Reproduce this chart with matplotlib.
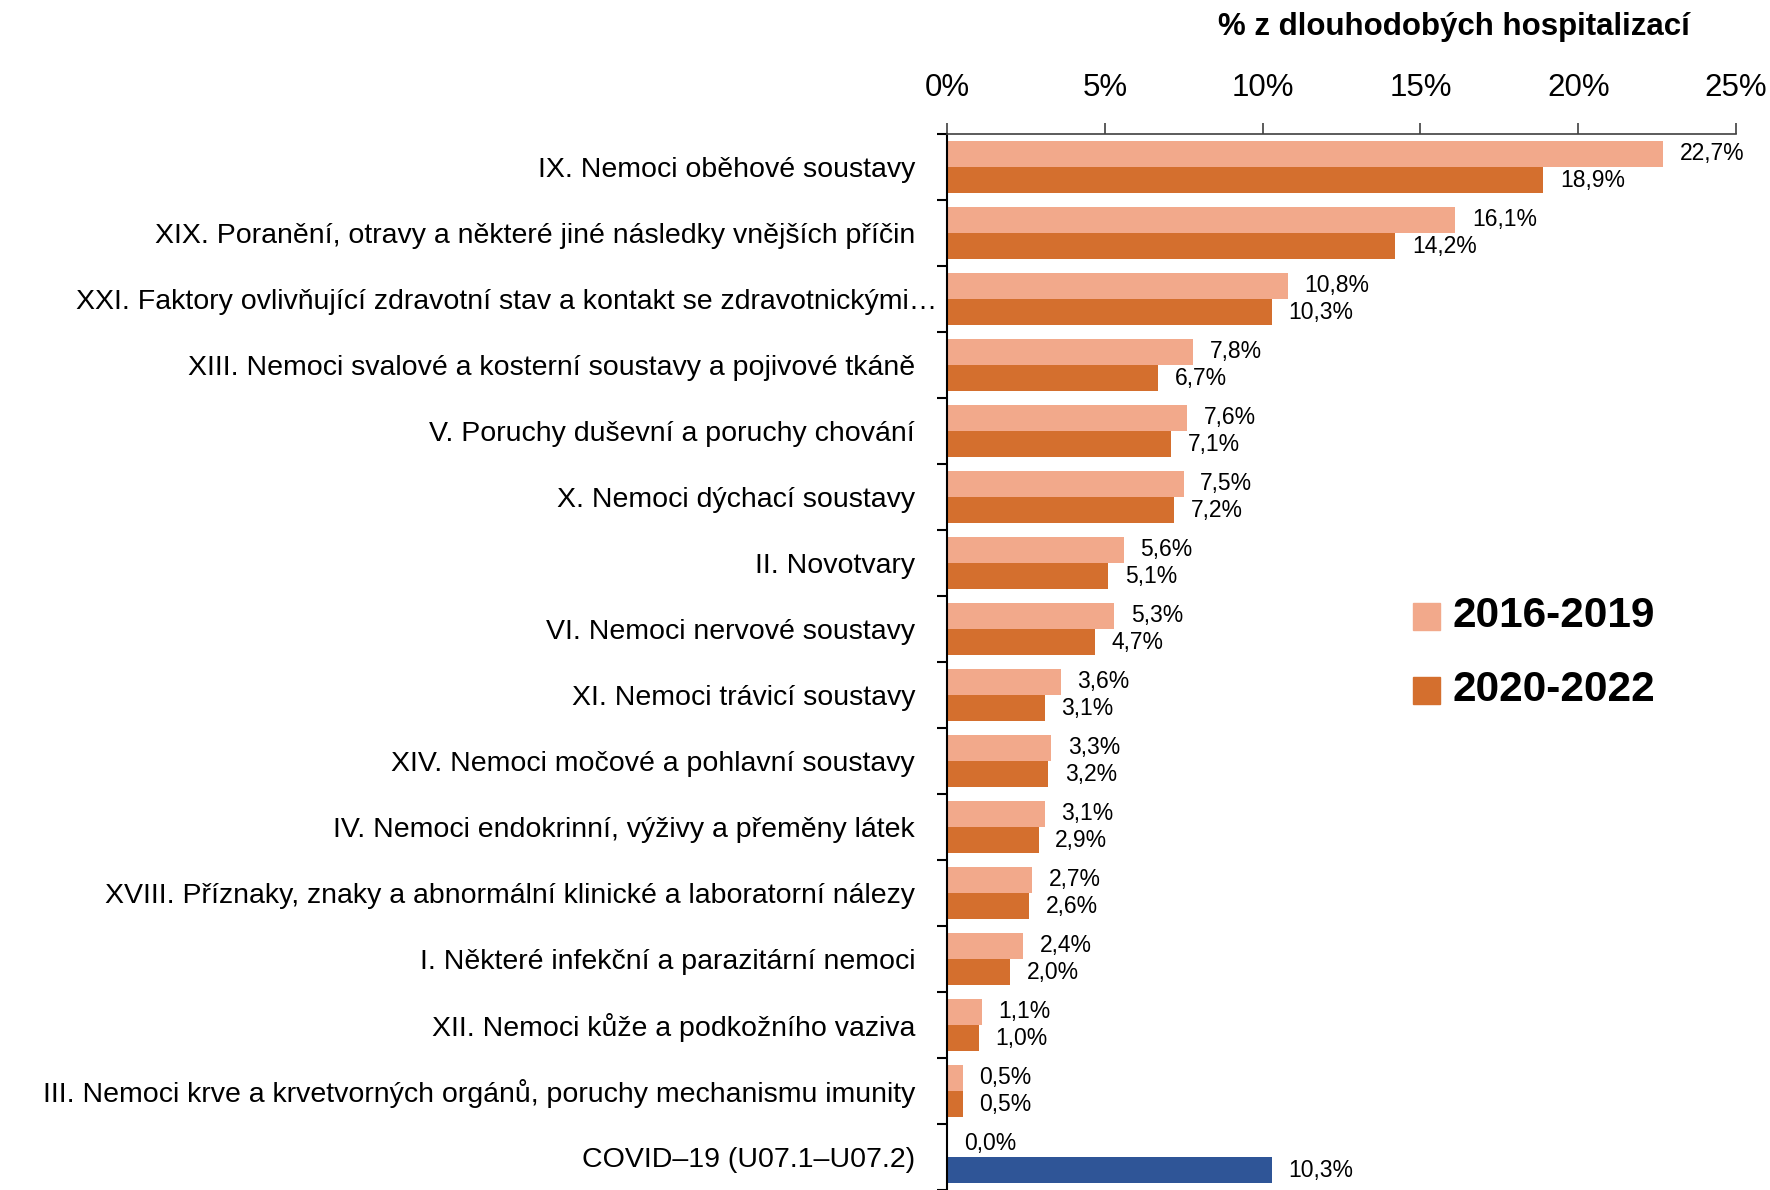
import matplotlib
matplotlib.use("Agg")
import matplotlib.pyplot as plt
import numpy as np
from matplotlib.patches import Rectangle

plt.rcParams['font.family'] = ['Liberation Sans', 'DejaVu Sans']

categories = [
    "IX. Nemoci oběhové soustavy",
    "XIX. Poranění, otravy a některé jiné následky vnějších příčin",
    "XXI. Faktory ovlivňující zdravotní stav a kontakt se zdravotnickými…",
    "XIII. Nemoci svalové a kosterní soustavy a pojivové tkáně",
    "V. Poruchy duševní a poruchy chování",
    "X. Nemoci dýchací soustavy",
    "II. Novotvary",
    "VI. Nemoci nervové soustavy",
    "XI. Nemoci trávicí soustavy",
    "XIV. Nemoci močové a pohlavní soustavy",
    "IV. Nemoci endokrinní, výživy a přeměny látek",
    "XVIII. Příznaky, znaky a abnormální klinické a laboratorní nálezy",
    "I. Některé infekční a parazitární nemoci",
    "XII. Nemoci kůže a podkožního vaziva",
    "III. Nemoci krve a krvetvorných orgánů, poruchy mechanismu imunity",
    "COVID–19 (U07.1–U07.2)",
]
values_2016_2019 = [22.7, 16.1, 10.8, 7.8, 7.6, 7.5, 5.6, 5.3, 3.6, 3.3, 3.1, 2.7, 2.4, 1.1, 0.5, 0.0]
values_2020_2022 = [18.9, 14.2, 10.3, 6.7, 7.1, 7.2, 5.1, 4.7, 3.1, 3.2, 2.9, 2.6, 2.0, 1.0, 0.5, 10.3]
series_labels = ["2016-2019", "2020-2022"]
x_ticks = [0, 5, 10, 15, 20, 25]
title = "% z dlouhodobých hospitalizací"

c_light = "#F2A98B"
c_dark = "#D46F2E"
c_covid = "#2F5597"

fig = plt.figure(figsize=(17.7, 11.9), dpi=100)
ax = fig.add_axes([947/1770, 0.0, (1736-947)/1770, 1-134/1190])

n = len(categories)
y = np.arange(n)
h = 0.4
dark_colors = [c_dark] * (n - 1) + [c_covid]
ax.barh(y - h/2, values_2016_2019, height=h, color=c_light, zorder=2)
ax.barh(y + h/2, values_2020_2022, height=h, color=dark_colors, zorder=2)

def fmt(v):
    return f"{v:.1f}".replace(".", ",") + "%"

for yi, v1, v2 in zip(y, values_2016_2019, values_2020_2022):
    ax.annotate(fmt(v1), (v1, yi - h/2), xytext=(12, 0), textcoords="offset points",
                ha="left", va="center", fontsize=16.5, color="black")
    ax.annotate(fmt(v2), (v2, yi + h/2), xytext=(12, 0), textcoords="offset points",
                ha="left", va="center", fontsize=16.5, color="black")

ax.set_xlim(0, 25)
ax.set_ylim(n - 0.5, -0.5)
ax.xaxis.tick_top()
ax.set_xticks(x_ticks)
ax.set_xticklabels([f"{t}%" for t in x_ticks], fontsize=22.5)
ax.tick_params(axis="x", direction="out", length=8, width=1.2, color="#404040", pad=14)

# long truncated label sits closer to the axis in the reference
long_idx = 2
tick_texts = [c if i != long_idx else "" for i, c in enumerate(categories)]
ax.set_yticks(y)
ax.set_yticklabels(tick_texts, fontsize=20.5)
ax.tick_params(axis="y", which="major", length=0, pad=23)
ax.annotate(categories[long_idx], xy=(0, y[long_idx]), xycoords=("axes fraction", "data"),
            xytext=(-10, 0), textcoords="offset pixels", ha="right", va="center_baseline",
            fontsize=20.5, annotation_clip=False)
ax.set_yticks(np.arange(-0.5, n, 1.0), minor=True)
ax.tick_params(axis="y", which="minor", direction="out", length=7, width=1.5, color="black")

for s in ["right", "bottom"]:
    ax.spines[s].set_visible(False)
ax.spines["left"].set_linewidth(1.5)
ax.spines["left"].set_color("black")
ax.spines["top"].set_linewidth(1.2)
ax.spines["top"].set_color("#404040")

fig.text(1454/1770, 1 - 35/1190, title, ha="center", va="baseline",
         fontsize=22.5, fontweight="bold")

# legend
for i, (lab, col) in enumerate(zip(series_labels, [c_light, c_dark])):
    cy = 616 + i * 74
    fig.patches.append(Rectangle((1413/1770, 1 - (cy + 13.5)/1190), 27/1770, 27/1190,
                                 transform=fig.transFigure, color=col, figure=fig))
    fig.text(1453/1770, 1 - cy/1190, lab, ha="left", va="center",
             fontsize=30.5, fontweight="bold")

fig.savefig("out.png", dpi=100)
